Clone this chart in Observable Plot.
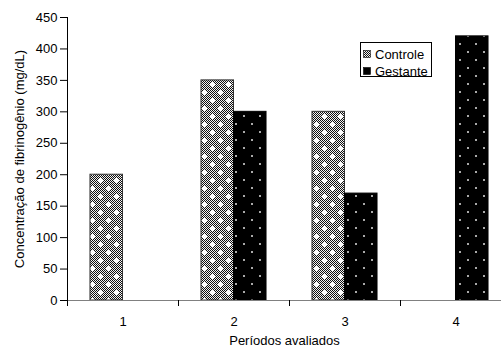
<!DOCTYPE html>
<html><head><meta charset="utf-8">
<script src="https://cdn.jsdelivr.net/npm/d3@7"></script>
<script src="https://cdn.jsdelivr.net/npm/@observablehq/plot@0.6"></script>
<style>body{margin:0;background:#fff}</style>
</head><body><div id="chart"></div>
<script>
const periods = [1, 2, 3, 4];
const periodBoundaries = [0.5, 1.5, 2.5, 3.5];
const controle = [200, 350, 300, null];
const gestante = [null, 300, 170, 420];
const seriesNames = ["Controle", "Gestante"];
const yTicks = [0, 50, 100, 150, 200, 250, 300, 350, 400, 450];
const xTitle = "Períodos avaliados";
const yTitle = "Concentração de fibrinogênio (mg/dL)";

const barW = 0.293; // bar width as a fraction of one period band
const rowsC = periods.map((p, i) => ({period: p, value: controle[i]})).filter(d => d.value != null);
const rowsG = periods.map((p, i) => ({period: p, value: gestante[i]})).filter(d => d.value != null);

const font = "'Liberation Sans', Arial, sans-serif";

const chart = Plot.plot({
  width: 501, height: 350,
  marginLeft: 67, marginRight: 0, marginTop: 17, marginBottom: 50,
  style: {fontFamily: font, fontSize: "13px", color: "#000", background: "#fff", overflow: "visible"},
  x: {domain: [0.5, 4.5], range: [67, 511], axis: null},
  y: {domain: [0, 450], axis: null},
  marks: [
    Plot.rectY(rowsC, {x1: d => d.period - barW, x2: d => d.period, y1: 0, y2: "value", fill: "url(#patC)", stroke: "#333", strokeWidth: 1}),
    Plot.rectY(rowsG, {x1: d => d.period, x2: d => d.period + barW, y1: 0, y2: "value", fill: "url(#patG)", stroke: "#000", strokeWidth: 1}),
    Plot.ruleY([0], {stroke: "#808080", strokeWidth: 1.2}),
    Plot.ruleX([0.5], {y1: 0, y2: 450, stroke: "#000"}),
    Plot.axisY({ticks: yTicks, tickSize: 7, tickPadding: 3, label: yTitle, labelAnchor: "center", labelArrow: "none", labelOffset: 53, fill: "#000", stroke: "#000"}),
    Plot.axisX({ticks: periodBoundaries, tickSize: 6, tickFormat: () => "", label: null, stroke: "#000"}),
    Plot.axisX({ticks: periods, tickSize: 0, tickPadding: 16, tickFormat: d => String(d), label: xTitle, labelAnchor: "center", labelArrow: "none", labelOffset: 44, fill: "#000"})
  ]
});

const svg = d3.select(chart);
const defs = svg.insert("defs", ":first-child");
// Controle: fine black/white checker with white crosses
const pc = defs.append("pattern").attr("id", "patC").attr("patternUnits", "userSpaceOnUse").attr("width", 16).attr("height", 16);
pc.append("rect").attr("width", 16).attr("height", 16).attr("fill", "#f2f2f2");
let p = "";
for (let y = 0; y < 16; y++) for (let x = 0; x < 16; x++) if ((x + y) % 2 === 0) p += `M${x},${y}h1v1h-1z`;
pc.append("path").attr("d", p).attr("fill", "#111").attr("shape-rendering", "crispEdges");
for (const [cx, cy] of [[4, 4], [12, 12]]) {
  pc.append("rect").attr("x", cx - 2).attr("y", cy).attr("width", 5).attr("height", 1).attr("fill", "#fff");
  pc.append("rect").attr("x", cx).attr("y", cy - 2).attr("width", 1).attr("height", 5).attr("fill", "#fff");
  pc.append("rect").attr("x", cx - 1).attr("y", cy - 1).attr("width", 3).attr("height", 3).attr("fill", "#fff");
}
// Gestante: black with light dots
const pg = defs.append("pattern").attr("id", "patG").attr("patternUnits", "userSpaceOnUse").attr("width", 16).attr("height", 16);
pg.append("rect").attr("width", 16).attr("height", 16).attr("fill", "#000");
for (const [cx, cy] of [[3, 3], [11, 11]]) {
  pg.append("rect").attr("x", cx).attr("y", cy).attr("width", 2).attr("height", 2).attr("fill", "#aaa");
}

// legend inside the plot area
const lg = svg.append("g").attr("font-family", font).attr("font-size", 13).attr("text-anchor", "start");
lg.append("rect").attr("x", 360.5).attr("y", 42.5).attr("width", 71).attr("height", 34).attr("fill", "#fff").attr("stroke", "#000");
seriesNames.forEach((name, i) => {
  const yy = 50 + i * 17;
  lg.append("rect").attr("x", 363.5).attr("y", yy + 0.5).attr("width", 7).attr("height", 7)
    .attr("fill", i === 0 ? "url(#patC)" : "url(#patG)").attr("stroke", "#000").attr("stroke-width", 0.6);
  lg.append("text").attr("x", 375).attr("y", yy + 8.5).attr("fill", "#000").attr("text-anchor", "start").text(name);
});

document.getElementById("chart").appendChild(chart);
</script>
</body></html>
